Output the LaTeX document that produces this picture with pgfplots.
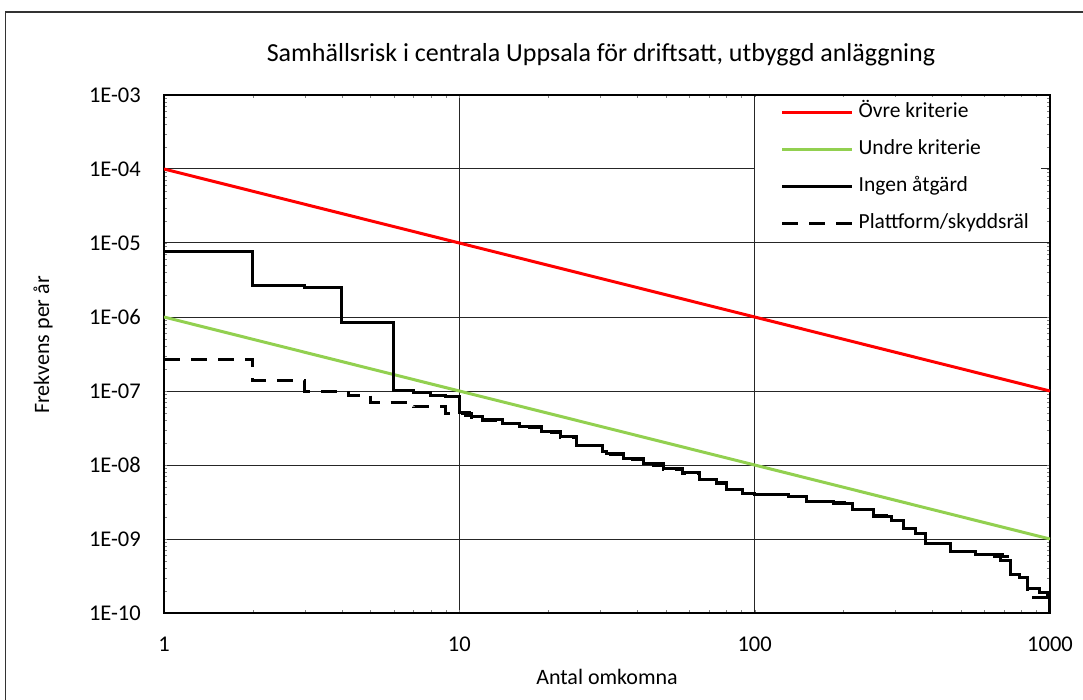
\documentclass[border=0pt]{standalone}
\usepackage{fontspec}
\setmainfont{Carlito}
\usepackage{pgfplots}
\pgfplotsset{compat=1.18}
\definecolor{kgreen}{HTML}{92D050}
\begin{document}
\fontsize{22}{26}\selectfont
\begin{tikzpicture}[x=1pt,y=1pt]
\useasboundingbox (0,0) rectangle (1083,700);
\draw[line width=1.5pt, black!80] (5.5,0) -- (5.5,688) -- (1083,688);
\begin{axis}[
  at={(164pt,87pt)}, anchor=south west,
  scale only axis, width=886pt, height=518pt,
  xmode=log, ymode=log,
  xmin=1, xmax=1000, ymin=1e-10, ymax=1e-3,
  xtick={1,10,100,1000}, xticklabels={1,10,100,1000},
  ytick={1e-10,1e-9,1e-8,1e-7,1e-6,1e-5,1e-4,1e-3},
  yticklabels={1E-10,1E-09,1E-08,1E-07,1E-06,1E-05,1E-04,1E-03},
  minor xtick={}, minor ytick={},
  major tick length=0pt,
  grid=major, major grid style={line width=1pt, black!85},
  axis line style={line width=1.6pt},
  yticklabel style={inner sep=0pt, xshift=-23pt, font=\fontsize{22.5}{26}\selectfont},
  xticklabel style={inner sep=0pt, yshift=-24pt, font=\fontsize{22.5}{26}\selectfont},
  legend style={at={(0.667,0.997)}, anchor=north west, draw=none, fill=white,
    font=\fontsize{21.5}{26}\selectfont, inner xsep=10pt, inner ysep=4pt,
    row sep=13pt, column sep=3pt, nodes={inner sep=2pt, text height=15pt, text depth=5pt}},
  legend cell align=left,
  legend image code/.code={\path[draw=none, fill=none] (0pt,-1pt) rectangle (1pt,1pt); \draw[#1] (17pt,0pt) -- (87pt,0pt);},
]
\addplot[red, line width=3pt] coordinates {(1,1e-4) (1000,1e-7)};
\addlegendentry{Övre kriterie}
\addplot[kgreen, line width=3pt] coordinates {(1,1e-6) (1000,1e-9)};
\addlegendentry{Undre kriterie}
\addplot[black, line width=3pt, const plot] coordinates {
(1,7.6e-6) (2,2.65e-6) (3,2.5e-6) (4,8.4e-7) (6,1.03e-7) (7,9.6e-8) (8,8.8e-8) (9,8.3e-8)
(10,5.2e-8) (10.8,4.9e-8) (11,4.5e-8) (12,4.06e-8) (14,3.65e-8) (16,3.3e-8) (19,2.8e-8)
(22,2.4e-8) (25,1.86e-8) (30.6,1.5e-8) (31.5,1.45e-8) (36,1.22e-8) (42,1.05e-8) (49,9.0e-9)
(57,7.8e-9) (65,6.4e-9) (74,5.8e-9) (80,4.6e-9) (91,4.1e-9) (100,4.0e-9) (130,3.8e-9)
(150,3.2e-9) (185,3.05e-9) (215,2.47e-9) (252,2.0e-9) (290,1.8e-9) (318,1.4e-9) (350,1.2e-9)
(380,8.7e-10) (459,6.8e-10) (560,6.2e-10) (650,5.8e-10) (680,5.2e-10) (733,3.3e-10)
(790,3.0e-10) (840,2.17e-10) (920,1.9e-10) (980,1.8e-10) (995,1.0e-10) (1000,1.0e-10)};
\addlegendentry{Ingen åtgärd}
\addplot[black, line width=3pt, const plot, dash pattern=on 16pt off 11pt] coordinates {
(1,2.7e-7) (2,1.38e-7) (3,1.0e-7) (4.2,8.8e-8) (5,7.0e-8) (7,6.1e-8) (9,5.0e-8) (10.5,4.6e-8)
(11,4.4e-8) (12,4.0e-8) (14,3.6e-8) (16,3.25e-8) (19,2.75e-8) (22,2.35e-8) (25,1.84e-8)
(30.6,1.48e-8) (31.5,1.4e-8) (36,1.2e-8) (42,1.0e-8) (49,8.8e-9) (57,7.6e-9) (65,6.3e-9)
(74,5.7e-9) (80,4.6e-9) (91,4.1e-9) (100,4.0e-9) (130,3.8e-9) (150,3.2e-9) (185,3.1e-9)
(215,2.5e-9) (252,2.1e-9) (290,1.8e-9) (318,1.4e-9) (350,1.2e-9) (380,8.7e-10) (459,6.8e-10)
(560,6.2e-10) (690,5.8e-10) (733,3.3e-10) (790,3.0e-10) (840,1.6e-10) (980,1.25e-10) (1000,1.1e-10)};
\addlegendentry{Plattform/skyddsräl}
\end{axis}
\node at (601,645) {\fontsize{26}{30}\selectfont Samhällsrisk i centrala Uppsala för driftsatt, utbyggd anläggning};
\node[rotate=90] at (43,355) {Frekvens per år};
\node at (607,23) {Antal omkomna};
\end{tikzpicture}
\end{document}
